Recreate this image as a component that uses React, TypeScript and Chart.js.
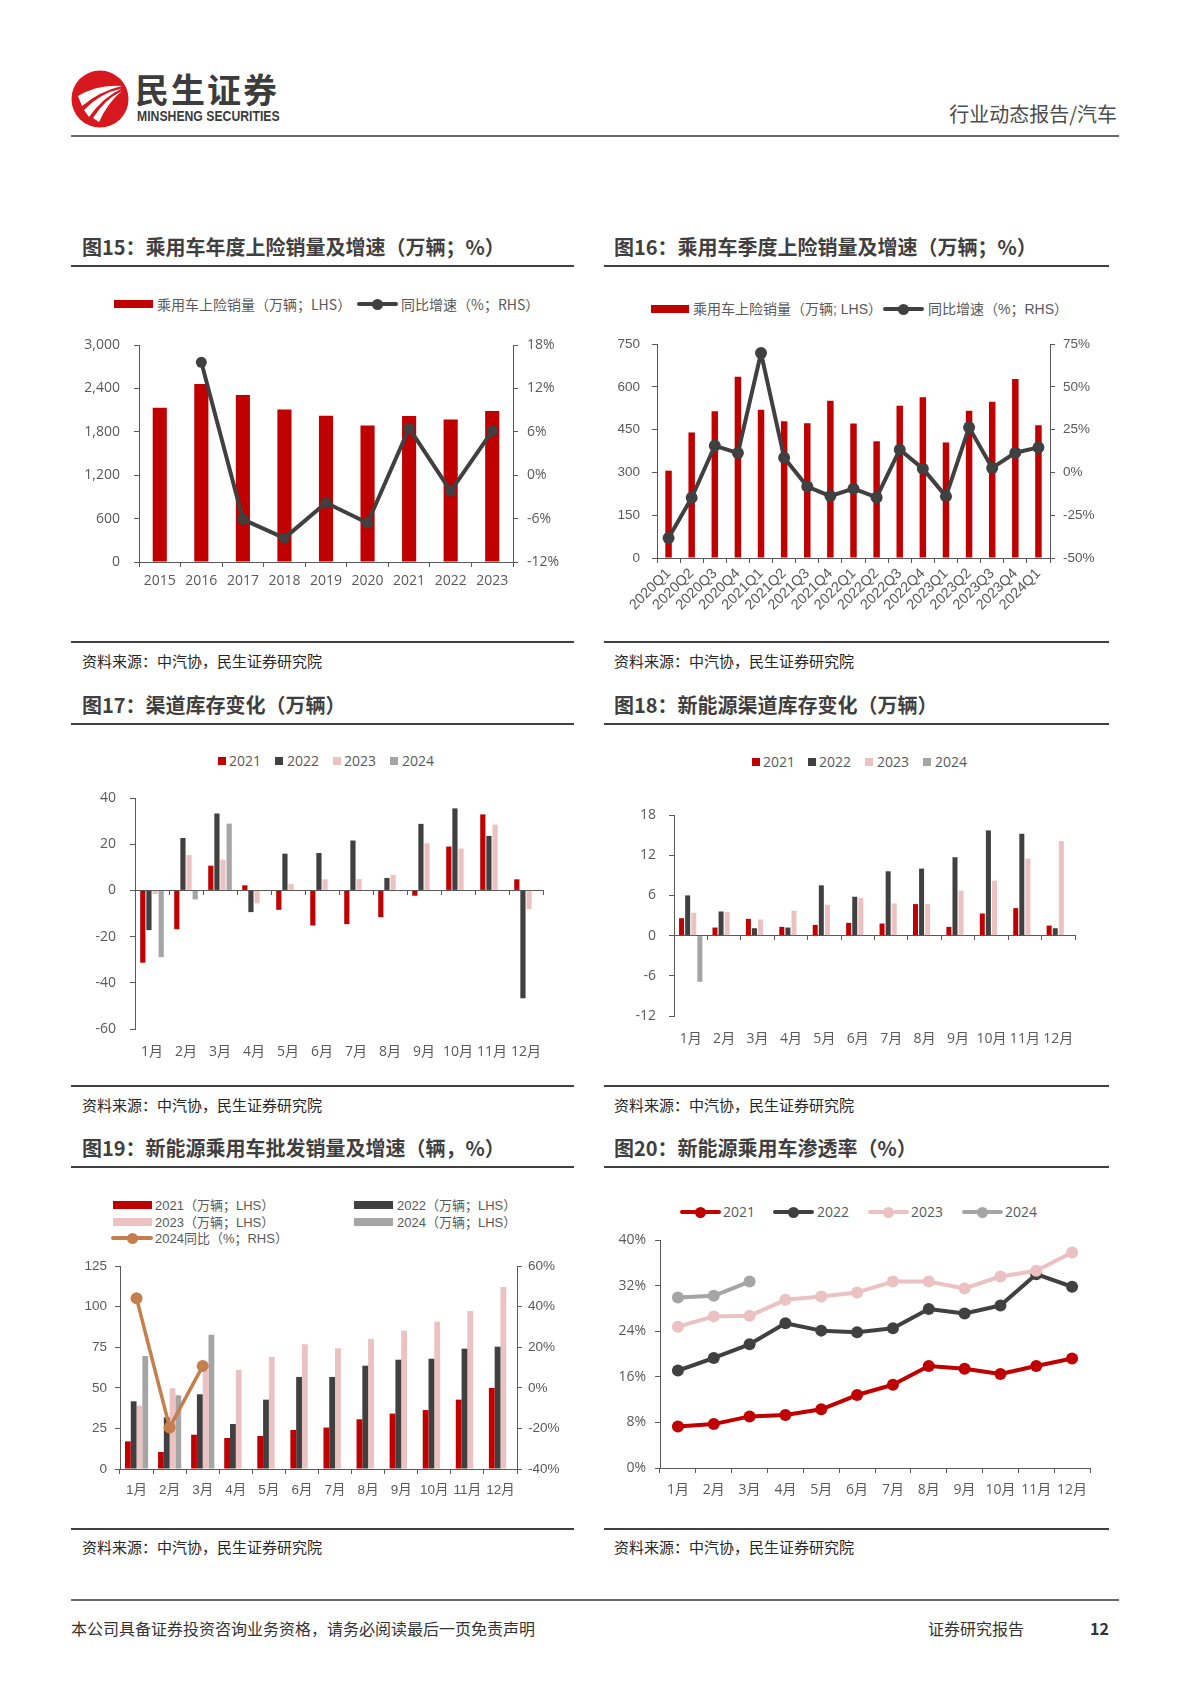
import React, { useEffect, useRef } from "react";
import { Chart, registerables } from "chart.js";

Chart.register(...registerables);

const RED = "#C00000";
const DARK = "#404040";
const PINK = "#EBC1C1";
const GRAY = "#A5A5A5";
const BROWN = "#C47F4D";
const AXIS = "#595959";
const TICK = "#595959";
const FO = "'Open Sans', 'Noto Sans CJK SC', sans-serif";
const FA = "'Liberation Sans', Arial, 'Noto Sans CJK SC', sans-serif";
const FC = "'Noto Sans CJK SC', 'Noto Sans', sans-serif";

// 图15 乘用车年度上险销量
const years15 = ["2015", "2016", "2017", "2018", "2019", "2020", "2021", "2022", "2023"];
const sales15 = [2132, 2460, 2308, 2109, 2022, 1888, 2017, 1971, 2086];
const yoy15 = [null, 15.6, -6.1, -8.7, -3.8, -6.6, 6.5, -2.2, 6.1];

// 图16 乘用车季度上险销量
const quarters16 = [
  "2020Q1", "2020Q2", "2020Q3", "2020Q4", "2021Q1", "2021Q2", "2021Q3", "2021Q4",
  "2022Q1", "2022Q2", "2022Q3", "2022Q4", "2023Q1", "2023Q2", "2023Q3", "2023Q4", "2024Q1",
];
const sales16 = [306, 440, 514, 635, 520, 479, 472, 551, 471, 409, 534, 563, 405, 516, 548, 627, 465];
const yoy16 = [-38.3, -14.8, 15.6, 11.3, 69.7, 8.6, -8.3, -13.8, -9.5, -14.6, 13.3, 2.2, -14.0, 26.3, 2.6, 11.5, 14.6];

// 月份
const months = ["1月", "2月", "3月", "4月", "5月", "6月", "7月", "8月", "9月", "10月", "11月", "12月"];

// 图17 渠道库存变化
const inv21 = [-31.3, -16.8, 10.7, 2.2, -8.4, -15.2, -14.6, -11.6, -2.3, 19.0, 32.9, 4.8];
const inv22 = [-17.2, 22.7, 33.3, -9.4, 15.9, 16.2, 21.6, 5.4, 28.8, 35.5, 23.6, -46.7];
const inv23 = [-1.6, 15.3, 13.3, -5.6, 2.7, 4.8, 4.9, 6.7, 20.4, 18.1, 28.5, -8.1];
const inv24 = [-28.9, -3.9, 28.9, null, null, null, null, null, null, null, null, null];

// 图18 新能源渠道库存变化
const nev21 = [2.6, 1.2, 2.5, 1.3, 1.6, 1.9, 1.8, 4.7, 1.3, 3.3, 4.1, 1.5];
const nev22 = [6.0, 3.6, 1.1, 1.2, 7.5, 5.8, 9.6, 10.0, 11.7, 15.7, 15.2, 1.1];
const nev23 = [3.4, 3.5, 2.4, 3.7, 4.6, 5.6, 4.8, 4.7, 6.7, 8.2, 11.5, 14.1];
const nev24 = [-6.9, null, null, null, null, null, null, null, null, null, null, null];

// 图19 新能源乘用车批发销量
const ws21 = [17.0, 10.5, 21.1, 19.1, 20.3, 24.0, 25.5, 30.6, 34.1, 36.3, 42.7, 49.9];
const ws22 = [41.7, 31.8, 46.0, 27.7, 42.7, 56.7, 56.7, 63.6, 67.3, 67.9, 74.1, 75.3];
const ws23 = [39.0, 49.7, 60.7, 61.0, 69.0, 76.8, 74.3, 80.0, 85.2, 90.7, 97.3, 112.1];
const ws24 = [69.6, 45.4, 82.7, null, null, null, null, null, null, null, null, null];
const wsYoy24 = [44.1, -19.5, 10.7, null, null, null, null, null, null, null, null, null];

// 图20 新能源乘用车渗透率
const pen21 = [7.3, 7.7, 9.05, 9.3, 10.3, 12.8, 14.6, 17.9, 17.4, 16.5, 17.9, 19.2];
const pen22 = [17.1, 19.3, 21.7, 25.4, 24.1, 23.8, 24.5, 27.9, 27.1, 28.5, 34.0, 31.8];
const pen23 = [24.8, 26.6, 26.7, 29.5, 30.1, 30.8, 32.7, 32.7, 31.5, 33.6, 34.6, 37.8];
const pen24 = [29.9, 30.2, 32.7, null, null, null, null, null, null, null, null, null];

const thousands = (v: number) => v.toLocaleString("en-US");
const pct = (v: number) => `${v}%`;

function base(pad: any, scales: any) {
  return {
    responsive: false,
    animation: false,
    devicePixelRatio: 1,
    layout: { padding: pad },
    plugins: { legend: { display: false }, tooltip: { enabled: false }, title: { display: false } },
    scales,
  };
}

function yScale(o: {
  position: "left" | "right"; min: number; max: number; step: number; w: number; pad: number;
  family: string; size: number; fmt?: (v: number) => string;
}) {
  const ticks: any = { stepSize: o.step, color: TICK, padding: o.pad, font: { family: o.family, size: o.size } };
  if (o.fmt) ticks.callback = (v: any) => o.fmt!(Number(v));
  return {
    type: "linear",
    position: o.position,
    min: o.min,
    max: o.max,
    ticks,
    grid: { drawOnChartArea: false, drawTicks: true, tickLength: 5, color: AXIS, lineWidth: 1 },
    border: { display: true, color: AXIS, width: 1 },
    afterFit: (s: any) => { s.width = o.w; s.paddingTop = 0; s.paddingBottom = 0; },
  };
}

function xScale(o: { h: number; pad: number; family: string; size: number; marks: boolean; rot?: number }) {
  const rot = o.rot || 0;
  return {
    type: "category",
    offset: true,
    ticks: {
      color: TICK, padding: o.pad, font: { family: o.family, size: o.size },
      autoSkip: false, maxRotation: rot, minRotation: rot,
    },
    grid: { display: o.marks, drawOnChartArea: false, drawTicks: o.marks, tickLength: 5, color: AXIS, lineWidth: 1, offset: true },
    border: { display: o.marks, color: AXIS, width: 1 },
    afterFit: (s: any) => { s.height = o.h; s.paddingLeft = 0; s.paddingRight = 0; },
  };
}

function zeroAxis() {
  return {
    type: "category",
    offset: true,
    position: { y: 0 },
    ticks: { display: false },
    grid: { drawOnChartArea: false, drawTicks: true, tickLength: 4, color: AXIS, lineWidth: 1, offset: true },
    border: { display: true, color: AXIS, width: 1 },
    afterFit: (s: any) => { s.height = 0; s.paddingLeft = 0; s.paddingRight = 0; },
  };
}

function lineDs(label: string, data: any[], color: string, width: number, r: number, extra: any = {}) {
  return {
    type: "line", label, data, borderColor: color, backgroundColor: color, borderWidth: width,
    pointRadius: r, pointHoverRadius: r, pointBackgroundColor: color, pointBorderColor: color, pointBorderWidth: 0,
    borderJoinStyle: "round", borderCapStyle: "round", tension: 0, fill: false, ...extra,
  };
}

function barDs(label: string, data: any[], color: string, extra: any = {}) {
  return { type: "bar", label, data, backgroundColor: color, borderWidth: 0, order: 1, ...extra };
}

const cfg15 = () => ({
  type: "bar",
  data: {
    labels: years15,
    datasets: [
      lineDs("同比增速（%；RHS）", yoy15, DARK, 4, 5.5, { yAxisID: "yR", order: 0 }),
      barDs("乘用车上险销量（万辆；LHS）", sales15, RED, { yAxisID: "y", barPercentage: 0.34, categoryPercentage: 1 }),
    ],
  },
  options: base({ top: 25, left: 0, right: 0, bottom: 0 }, {
    x: xScale({ h: 43, pad: 6, family: FO, size: 14, marks: true }),
    y: yScale({ position: "left", min: 0, max: 3000, step: 600, w: 68, pad: 14, family: FO, size: 14, fmt: thousands }),
    yR: yScale({ position: "right", min: -12, max: 18, step: 6, w: 68, pad: 9, family: FO, size: 14, fmt: pct }),
  }),
});

const cfg16 = () => ({
  type: "bar",
  data: {
    labels: quarters16,
    datasets: [
      lineDs("同比增速（%；RHS）", yoy16, DARK, 4, 6, { yAxisID: "yR", order: 0 }),
      barDs("乘用车上险销量（万辆; LHS）", sales16, RED, { yAxisID: "y", barPercentage: 0.28, categoryPercentage: 1 }),
    ],
  },
  options: base({ top: 24, left: 0, right: 0, bottom: 0 }, {
    x: xScale({ h: 62, pad: 2, family: FA, size: 14.5, marks: true, rot: 45 }),
    y: yScale({ position: "left", min: 0, max: 750, step: 150, w: 51, pad: 12, family: FA, size: 13.5 }),
    yR: yScale({ position: "right", min: -50, max: 75, step: 25, w: 66, pad: 8, family: FA, size: 13.5, fmt: pct }),
  }),
});

const grp4 = { categoryPercentage: 0.72, barPercentage: 0.85 };

const cfg17 = () => ({
  type: "bar",
  data: {
    labels: months,
    datasets: [
      barDs("2021", inv21, RED, grp4),
      barDs("2022", inv22, DARK, grp4),
      barDs("2023", inv23, PINK, grp4),
      barDs("2024", inv24, GRAY, grp4),
    ],
  },
  options: base({ top: 23, left: 0, right: 38, bottom: 0 }, {
    x: xScale({ h: 41, pad: 15, family: FO, size: 14, marks: false }),
    x2: zeroAxis(),
    y: yScale({ position: "left", min: -60, max: 40, step: 20, w: 64, pad: 14, family: FO, size: 14 }),
  }),
});

const grp4b = { categoryPercentage: 0.73, barPercentage: 0.82 };

const cfg18 = () => ({
  type: "bar",
  data: {
    labels: months,
    datasets: [
      barDs("2021", nev21, RED, grp4b),
      barDs("2022", nev22, DARK, grp4b),
      barDs("2023", nev23, PINK, grp4b),
      barDs("2024", nev24, GRAY, grp4b),
    ],
  },
  options: base({ top: 25, left: 0, right: 41, bottom: 0 }, {
    x: xScale({ h: 54, pad: 15, family: FO, size: 14, marks: false }),
    x2: zeroAxis(),
    y: yScale({ position: "left", min: -12, max: 18, step: 6, w: 68, pad: 13, family: FO, size: 14 }),
  }),
});

const grp19 = { categoryPercentage: 0.7, barPercentage: 1.0, yAxisID: "y" };

const cfg19 = () => ({
  type: "bar",
  data: {
    labels: months,
    datasets: [
      lineDs("2024同比（%；RHS）", wsYoy24, BROWN, 3.5, 6, { yAxisID: "yR", order: 0 }),
      barDs("2021（万辆；LHS）", ws21, RED, grp19),
      barDs("2022（万辆；LHS）", ws22, DARK, grp19),
      barDs("2023（万辆；LHS）", ws23, PINK, grp19),
      barDs("2024（万辆；LHS）", ws24, GRAY, grp19),
    ],
  },
  options: base({ top: 16, left: 0, right: 0, bottom: 0 }, {
    x: xScale({ h: 41, pad: 8, family: FA, size: 13.5, marks: true }),
    y: yScale({ position: "left", min: 0, max: 125, step: 25, w: 49, pad: 8, family: FA, size: 13.5 }),
    yR: yScale({ position: "right", min: -40, max: 60, step: 20, w: 64, pad: 6, family: FA, size: 13.5, fmt: pct }),
  }),
});

const cfg20 = () => ({
  type: "line",
  data: {
    labels: months,
    datasets: [
      lineDs("2021", pen21, RED, 4, 6, { order: 4 }),
      lineDs("2022", pen22, DARK, 4, 6, { order: 3 }),
      lineDs("2023", pen23, PINK, 4, 6, { order: 2 }),
      lineDs("2024", pen24, GRAY, 4, 6, { order: 1 }),
    ],
  },
  options: base({ top: 15, left: 0, right: 26, bottom: 0 }, {
    x: xScale({ h: 42, pad: 9, family: FO, size: 14, marks: true }),
    y: yScale({ position: "left", min: 0, max: 40, step: 8, w: 54, pad: 9, family: FO, size: 14, fmt: pct }),
  }),
});

function ChartBox({ x, y, w, h, config }: { x: number; y: number; w: number; h: number; config: () => any }) {
  const ref = useRef<HTMLCanvasElement | null>(null);
  useEffect(() => {
    if (!ref.current) return;
    const chart = new Chart(ref.current, config() as any);
    return () => chart.destroy();
  }, []);
  return (
    <canvas
      ref={ref}
      width={w}
      height={h}
      style={{ position: "absolute", left: x, top: y, width: w, height: h, display: "block" }}
    />
  );
}

function Txt(p: {
  x: number; y: number; size: number; children: any; color?: string; weight?: number;
  family?: string; right?: boolean; transform?: string; spacing?: number;
}) {
  const style: any = {
    position: "absolute",
    top: p.y,
    transform: `translateY(-50%)${p.transform ? " " + p.transform : ""}`,
    transformOrigin: "left center",
    fontSize: p.size,
    lineHeight: `${Math.round(p.size * 1.3)}px`,
    color: p.color || "#595959",
    fontWeight: p.weight || 400,
    fontFamily: p.family || FC,
    whiteSpace: "nowrap",
    letterSpacing: p.spacing || 0,
  };
  if (p.right) style.right = 1190 - p.x;
  else style.left = p.x;
  return <div style={style}>{p.children}</div>;
}

function HLine({ x1, x2, y, h = 2, c = "#404040" }: { x1: number; x2: number; y: number; h?: number; c?: string }) {
  return <div style={{ position: "absolute", left: x1, top: y - h / 2, width: x2 - x1, height: h, background: c }} />;
}

function RectMark({ x, y, w, h, c }: { x: number; y: number; w: number; h: number; c: string }) {
  return <div style={{ position: "absolute", left: x, top: y - h / 2, width: w, height: h, background: c }} />;
}

function LineMark({ x, y, w, c, r, t = 4 }: { x: number; y: number; w: number; c: string; r: number; t?: number }) {
  return (
    <>
      <div style={{ position: "absolute", left: x, top: y - t / 2, width: w, height: t, background: c, borderRadius: t / 2 }} />
      <div style={{ position: "absolute", left: x + w / 2 - r, top: y - r, width: 2 * r, height: 2 * r, borderRadius: "50%", background: c }} />
    </>
  );
}

const TITLE_C = "#3F3F3F";
const SRC = "资料来源：中汽协，民生证券研究院";

export default function App() {
  return (
    <div style={{ position: "absolute", left: 0, top: 0, width: 1190, height: 1683, background: "#fff", overflow: "hidden", fontFamily: FC }}>
      {/* header */}
      <svg width={60} height={60} viewBox="0 0 60 60" style={{ position: "absolute", left: 70, top: 69 }}>
        <circle cx={30} cy={30} r={28.5} fill="#D7191F" />
        <path d="M8 27 Q 28 15 52 17 Q 30 22 12 37 Z" fill="#fff" />
        <path d="M14 41 Q 30 24 52 19.5 Q 33 28 19 48 Z" fill="#fff" />
        <path d="M23 49 Q 35 30 52 22 Q 38 33 29 53 Z" fill="#fff" />
      </svg>
      <Txt x={135} y={89} size={34} weight={700} color="#3C3C3C" spacing={2}>民生证券</Txt>
      <Txt x={137} y={116} size={15} weight={700} color="#3C3C3C" family={FA} transform="scaleX(0.815)">MINSHENG SECURITIES</Txt>
      <Txt x={1117} y={114} size={20} color="#4D4D4D" right>行业动态报告/汽车</Txt>
      <HLine x1={71} x2={1119} y={136} h={2} c="#6B6B6B" />

      {/* titles row 1 */}
      <Txt x={82} y={247} size={20} weight={700} color={TITLE_C}>图15：乘用车年度上险销量及增速（万辆；%）</Txt>
      <Txt x={614} y={247} size={20} weight={700} color={TITLE_C}>图16：乘用车季度上险销量及增速（万辆；%）</Txt>
      <HLine x1={71} x2={574} y={266} />
      <HLine x1={604} x2={1109} y={266} />

      {/* chart 15 */}
      <ChartBox x={71} y={320} w={510} h={285} config={cfg15} />
      <RectMark x={114} y={304} w={39} h={8} c={RED} />
      <Txt x={157} y={304} size={14}>乘用车上险销量（万辆；LHS）</Txt>
      <LineMark x={357} y={304} w={41} c={DARK} r={5.5} />
      <Txt x={401} y={304} size={14}>同比增速（%；RHS）</Txt>

      {/* chart 16 */}
      <ChartBox x={606} y={320} w={510} h={300} config={cfg16} />
      <RectMark x={651} y={309} w={38} h={8} c={RED} />
      <Txt x={693} y={309} size={14} family={FA}>乘用车上险销量（万辆; LHS）</Txt>
      <LineMark x={883} y={309} w={41} c={DARK} r={5.5} />
      <Txt x={928} y={309} size={14} family={FA}>同比增速（%；RHS）</Txt>

      {/* sources row 1 */}
      <HLine x1={71} x2={574} y={642} />
      <HLine x1={604} x2={1109} y={642} />
      <Txt x={82} y={661} size={15} color="#262626">{SRC}</Txt>
      <Txt x={614} y={661} size={15} color="#262626">{SRC}</Txt>

      {/* titles row 2 */}
      <Txt x={82} y={705} size={20} weight={700} color={TITLE_C}>图17：渠道库存变化（万辆）</Txt>
      <Txt x={614} y={705} size={20} weight={700} color={TITLE_C}>图18：新能源渠道库存变化（万辆）</Txt>
      <HLine x1={71} x2={574} y={724} />
      <HLine x1={604} x2={1109} y={724} />

      {/* chart 17 */}
      <ChartBox x={71} y={775} w={510} h={295} config={cfg17} />
      <RectMark x={218} y={761} w={8} h={8} c={RED} />
      <Txt x={229} y={761} size={14} family={FO}>2021</Txt>
      <RectMark x={275} y={761} w={8} h={8} c={DARK} />
      <Txt x={287} y={761} size={14} family={FO}>2022</Txt>
      <RectMark x={333} y={761} w={8} h={8} c={PINK} />
      <Txt x={344} y={761} size={14} family={FO}>2023</Txt>
      <RectMark x={390} y={761} w={8} h={8} c={GRAY} />
      <Txt x={402} y={761} size={14} family={FO}>2024</Txt>

      {/* chart 18 */}
      <ChartBox x={606} y={790} w={510} h={280} config={cfg18} />
      <RectMark x={752} y={762} w={8} h={8} c={RED} />
      <Txt x={763} y={762} size={14} family={FO}>2021</Txt>
      <RectMark x={808} y={762} w={8} h={8} c={DARK} />
      <Txt x={819} y={762} size={14} family={FO}>2022</Txt>
      <RectMark x={865} y={762} w={8} h={8} c={PINK} />
      <Txt x={877} y={762} size={14} family={FO}>2023</Txt>
      <RectMark x={923} y={762} w={8} h={8} c={GRAY} />
      <Txt x={935} y={762} size={14} family={FO}>2024</Txt>

      {/* sources row 2 */}
      <HLine x1={71} x2={574} y={1086} />
      <HLine x1={604} x2={1109} y={1086} />
      <Txt x={82} y={1105} size={15} color="#262626">{SRC}</Txt>
      <Txt x={614} y={1105} size={15} color="#262626">{SRC}</Txt>

      {/* titles row 3 */}
      <Txt x={82} y={1148} size={20} weight={700} color={TITLE_C}>图19：新能源乘用车批发销量及增速（辆，%）</Txt>
      <Txt x={614} y={1148} size={20} weight={700} color={TITLE_C}>图20：新能源乘用车渗透率（%）</Txt>
      <HLine x1={71} x2={574} y={1167} />
      <HLine x1={604} x2={1109} y={1167} />

      {/* chart 19 */}
      <ChartBox x={71} y={1250} w={510} h={260} config={cfg19} />
      <RectMark x={113} y={1205} w={39} h={8} c={RED} />
      <Txt x={155} y={1205} size={13} family={FA}>2021（万辆；LHS）</Txt>
      <RectMark x={354} y={1205} w={39} h={8} c={DARK} />
      <Txt x={397} y={1205} size={13} family={FA}>2022（万辆；LHS）</Txt>
      <RectMark x={113} y={1222} w={39} h={8} c={PINK} />
      <Txt x={155} y={1222} size={13} family={FA}>2023（万辆；LHS）</Txt>
      <RectMark x={354} y={1222} w={39} h={8} c={GRAY} />
      <Txt x={397} y={1222} size={13} family={FA}>2024（万辆；LHS）</Txt>
      <LineMark x={111} y={1238} w={42} c={BROWN} r={5.5} />
      <Txt x={155} y={1238} size={13} family={FA}>2024同比（%；RHS）</Txt>

      {/* chart 20 */}
      <ChartBox x={606} y={1225} w={510} h={285} config={cfg20} />
      <LineMark x={680} y={1212} w={41} c={RED} r={5.5} />
      <Txt x={723} y={1212} size={14} family={FO}>2021</Txt>
      <LineMark x={773} y={1212} w={41} c={DARK} r={5.5} />
      <Txt x={817} y={1212} size={14} family={FO}>2022</Txt>
      <LineMark x={868} y={1212} w={41} c={PINK} r={5.5} />
      <Txt x={911} y={1212} size={14} family={FO}>2023</Txt>
      <LineMark x={962} y={1212} w={41} c={GRAY} r={5.5} />
      <Txt x={1005} y={1212} size={14} family={FO}>2024</Txt>

      {/* sources row 3 */}
      <HLine x1={71} x2={574} y={1529} />
      <HLine x1={604} x2={1109} y={1529} />
      <Txt x={82} y={1547} size={15} color="#262626">{SRC}</Txt>
      <Txt x={614} y={1547} size={15} color="#262626">{SRC}</Txt>

      {/* footer */}
      <HLine x1={71} x2={1119} y={1600} h={2} c="#6B6B6B" />
      <Txt x={71} y={1628} size={16} color="#333333">本公司具备证券投资咨询业务资格，请务必阅读最后一页免责声明</Txt>
      <Txt x={928} y={1628} size={16} color="#333333">证券研究报告</Txt>
      <Txt x={1090} y={1628} size={16} weight={700} color="#333333">12</Txt>
    </div>
  );
}
